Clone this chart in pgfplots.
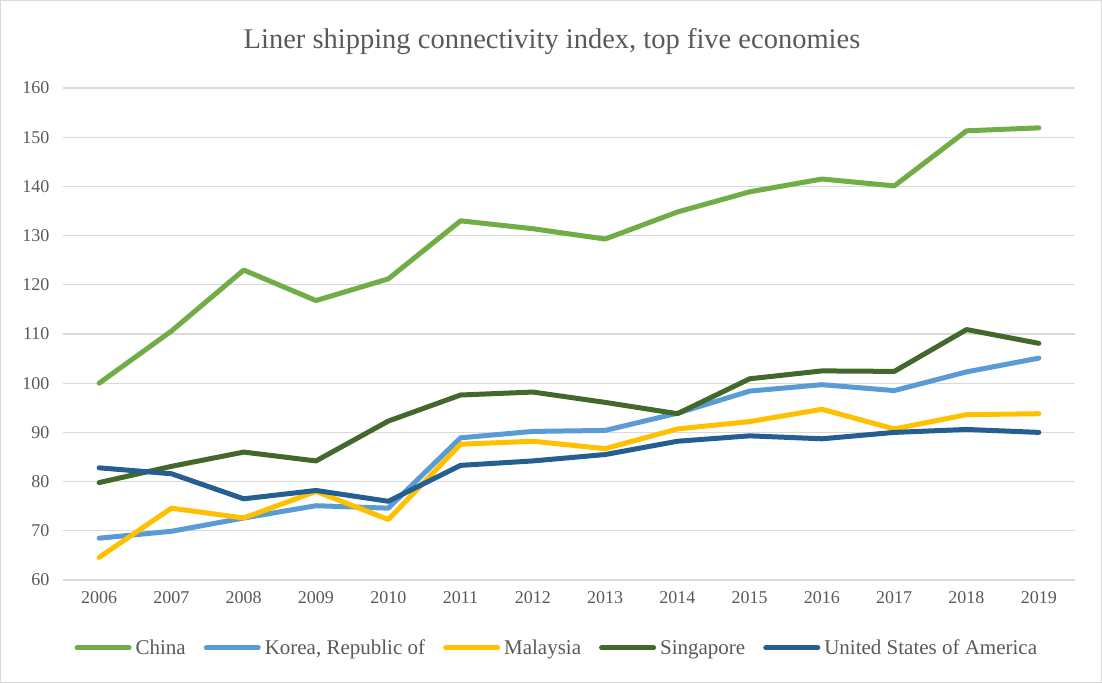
\documentclass[border=0pt]{standalone}
\usepackage{fontspec}
\setmainfont{Liberation Serif}
\usepackage{pgfplots}
\pgfplotsset{compat=1.18}
\definecolor{cChina}{HTML}{70AD47}
\definecolor{cKorea}{HTML}{5B9BD5}
\definecolor{cMalay}{HTML}{FFC000}
\definecolor{cSing}{HTML}{43682B}
\definecolor{cUSA}{HTML}{255E91}
\definecolor{txt}{HTML}{595959}
\definecolor{grd}{HTML}{D9D9D9}
\begin{document}
\begin{tikzpicture}
\useasboundingbox (-63pt,-103pt) rectangle (1039pt,580pt);
\draw[grd, line width=1.2pt] (-62.4pt,-102.4pt) rectangle (1038.4pt,579.4pt);
\begin{axis}[
  scale only axis,
  width=1012pt, height=492pt,
  xmin=2005.5, xmax=2019.5,
  ymin=60, ymax=160,
  xtick={2006,...,2019},
  ytick={60,70,...,160},
  xticklabel style={/pgf/number format/1000 sep={}},
  /pgf/number format/assume math mode=true,
  axis line style={draw=none},
  major tick length=0pt,
  ymajorgrids,
  grid style={grd, line width=1.3pt},
  tick label style={font=\fontsize{18}{21}\selectfont, text=txt},
  yticklabel style={xshift=-10pt},
  xticklabel style={yshift=-8pt},
  legend style={at={(0.488,-0.138)}, anchor=center, draw=none, fill=none,
    font=\fontsize{21}{24}\selectfont, text=txt,
    /tikz/every odd column/.append style={column sep=2pt},
    /tikz/every even column/.append style={column sep=16pt}},
  legend columns=5,
  legend image code/.code={\draw[#1, line cap=round] (0pt,0pt) -- (52pt,0pt);},
  every axis plot/.append style={line width=5pt, line cap=round, line join=round},
]
\addplot[cChina] coordinates {(2006,100.0) (2007,110.6) (2008,123.0) (2009,116.8) (2010,121.2) (2011,133.0) (2012,131.4) (2013,129.3) (2014,134.8) (2015,138.9) (2016,141.5) (2017,140.1) (2018,151.3) (2019,151.9)};
\addlegendentry{China}
\addplot[cKorea] coordinates {(2006,68.5) (2007,69.9) (2008,72.6) (2009,75.1) (2010,74.6) (2011,88.9) (2012,90.2) (2013,90.4) (2014,93.9) (2015,98.4) (2016,99.7) (2017,98.5) (2018,102.3) (2019,105.1)};
\addlegendentry{Korea, Republic of}
\addplot[cMalay] coordinates {(2006,64.6) (2007,74.6) (2008,72.6) (2009,78.0) (2010,72.3) (2011,87.6) (2012,88.2) (2013,86.7) (2014,90.7) (2015,92.2) (2016,94.7) (2017,90.7) (2018,93.6) (2019,93.8)};
\addlegendentry{Malaysia}
\addplot[cSing] coordinates {(2006,79.8) (2007,83.1) (2008,86.0) (2009,84.2) (2010,92.3) (2011,97.6) (2012,98.2) (2013,96.1) (2014,93.8) (2015,100.9) (2016,102.5) (2017,102.4) (2018,110.9) (2019,108.1)};
\addlegendentry{Singapore}
\addplot[cUSA] coordinates {(2006,82.8) (2007,81.6) (2008,76.5) (2009,78.2) (2010,76.0) (2011,83.3) (2012,84.2) (2013,85.5) (2014,88.2) (2015,89.3) (2016,88.7) (2017,90.0) (2018,90.6) (2019,90.0)};
\addlegendentry{United States of America}
\end{axis}
\node[text=txt, font=\fontsize{28.5}{33}\selectfont] at (489pt,538pt) {Liner shipping connectivity index, top five economies};
\end{tikzpicture}
\end{document}
